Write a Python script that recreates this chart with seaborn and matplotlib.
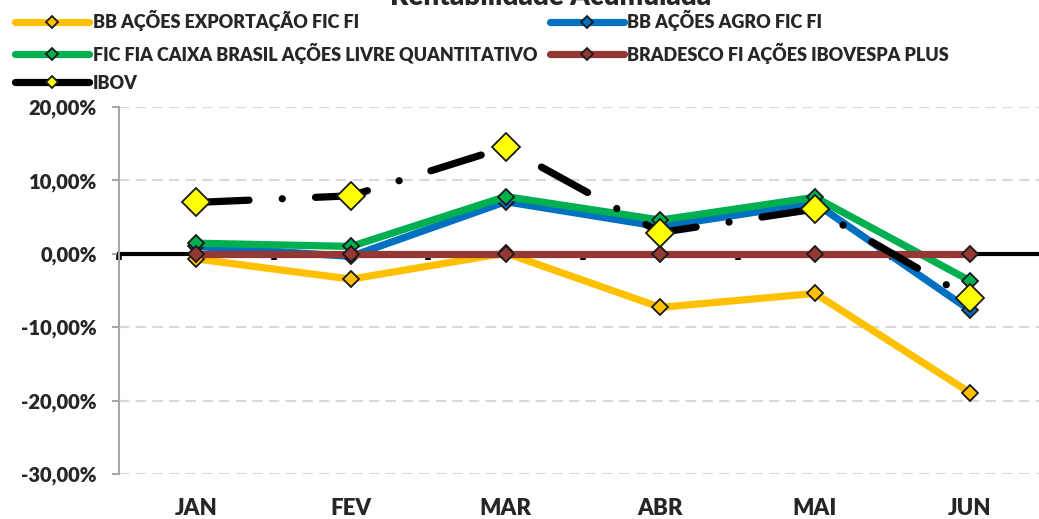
import matplotlib
matplotlib.use("Agg")
import matplotlib.pyplot as plt
import seaborn as sns
import numpy as np

# data (cumulative return, fraction)
months = ["JAN", "FEV", "MAR", "ABR", "MAI", "JUN"]
bb_exportacao = [-0.007, -0.0345, 0.001, -0.073, -0.054, -0.189]
bb_agro = [0.010, -0.0035, 0.071, 0.037, 0.069, -0.0765]
caixa_livre = [0.0145, 0.010, 0.078, 0.046, 0.077, -0.0365]
bradesco_plus = [0.0, 0.0, 0.0, 0.0, 0.0, 0.0]
ibov = [0.070, 0.079, 0.145, 0.029, 0.061, -0.0605]
y_ticks = [-0.30, -0.20, -0.10, 0.0, 0.10, 0.20]
y_tick_labels = ["-30,00%", "-20,00%", "-10,00%", "0,00%", "10,00%", "20,00%"]

sns.set_style("white")
plt.rcParams['font.family'] = ['Lato', 'DejaVu Sans']
W = 'heavy'

fig = plt.figure(figsize=(10.39, 5.19), dpi=100)
ax = fig.add_axes([119 / 1039, 45 / 519, 928 / 1039, 367 / 519])

x = np.arange(len(months))

# zero line / category axis
ax.spines['bottom'].set_position(('data', 0))
ax.spines['bottom'].set_color('black')
ax.spines['bottom'].set_linewidth(3)
ax.spines['bottom'].set_zorder(1)
ax.spines['top'].set_visible(False)
ax.spines['right'].set_visible(False)
ax.spines['left'].set_color('#a6a6a6')
ax.spines['left'].set_linewidth(1.5)

# gridlines
for t in y_ticks:
    if t != 0:
        ax.axhline(t, color='#d9d9d9', lw=1.5, ls=(0, (5, 3)), zorder=0)

series = [
    ("BB AÇÕES EXPORTAÇÃO FIC FI", bb_exportacao, "#ffc000"),
    ("BB AÇÕES AGRO FIC FI", bb_agro, "#0070c0"),
    ("FIC FIA CAIXA BRASIL AÇÕES LIVRE QUANTITATIVO", caixa_livre, "#00b050"),
    ("BRADESCO FI AÇÕES IBOVESPA PLUS", bradesco_plus, "#953735"),
]
handles = {}
for name, vals, col in series:
    sns.lineplot(x=x, y=vals, ax=ax, color=col, lw=5.2, marker='D', markersize=8,
                 markerfacecolor=col, markeredgecolor='#1a1a1a', markeredgewidth=1.3,
                 label=name, zorder=3, legend=False)
    handles[name] = ax.lines[-1]

sns.lineplot(x=x, y=ibov, ax=ax, color='black', lw=5.2, marker='D', markersize=14,
             markerfacecolor='#ffff00', markeredgecolor='#1a1a1a', markeredgewidth=1.3,
             label="IBOV", zorder=4, legend=False)
ibov_line = ax.lines[-1]
ibov_line.set_dashes([7.3, 4.6, 0.01, 4.6])
ibov_line.set_dash_capstyle('round')
handles["IBOV"] = ibov_line

ax.set_xlim(-0.5, 5.5)
ax.set_ylim(-0.30, 0.20)
ax.set_yticks(y_ticks)
ax.set_yticklabels(y_tick_labels, fontsize=14.5, fontweight=W)
ax.tick_params(axis='y', direction='out', length=5, width=1.5, color='#a6a6a6', left=True, pad=11)

ax.set_xticks(np.arange(-0.5, 6.0, 1.0))
ax.set_xticklabels([])
ax.tick_params(axis='x', direction='out', length=4, width=4, color='black', bottom=True)

sec = ax.secondary_xaxis(0)
sec.set_xticks(x)
sec.set_xticklabels(months, fontsize=16, fontweight=W)
sec.tick_params(length=0, pad=17)
sec.spines['bottom'].set_visible(False)
ax.set_xlabel("")
ax.set_ylabel("")

order = ["BB AÇÕES EXPORTAÇÃO FIC FI", "FIC FIA CAIXA BRASIL AÇÕES LIVRE QUANTITATIVO", "IBOV",
         "BB AÇÕES AGRO FIC FI", "BRADESCO FI AÇÕES IBOVESPA PLUS"]
leg = fig.legend([handles[n] for n in order], order, ncol=2, loc='upper left',
                 bbox_to_anchor=(15 / 1039, 1 - 10 / 519), frameon=False,
                 prop={'size': 13, 'weight': W}, handlelength=4.1,
                 handletextpad=0.2, columnspacing=0.7, labelspacing=0.62,
                 borderaxespad=0, borderpad=0)
for h in leg.legend_handles:
    h.set_markersize(6)
    h.set_linestyle('-')
    h.set_solid_capstyle('round')

fig.text(551 / 1039, 1 - 5 / 519, "Rentabilidade Acumulada", ha='center', va='baseline',
         fontsize=20, fontweight=W)

fig.savefig("out.png", dpi=100)
